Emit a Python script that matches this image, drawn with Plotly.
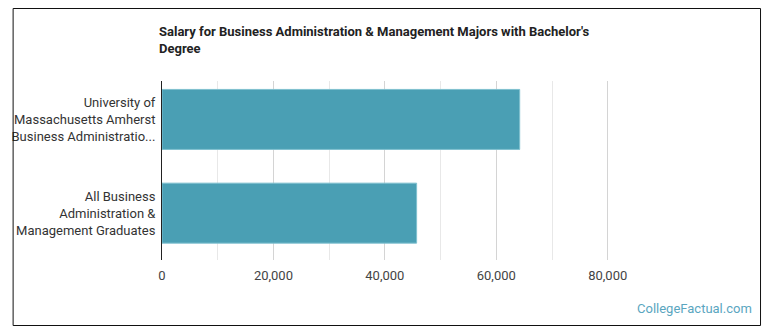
import plotly.graph_objects as go

categories = [
    "All Business<br>Administration &<br>Management Graduates",
    "University of<br>Massachusetts Amherst<br>Business Administratio...",
]
salaries = [45700, 64200]
tick_vals = [0, 20000, 40000, 60000, 80000]
tick_text = ["0", "20,000", "40,000", "60,000", "80,000"]

W, H = 770, 335
L, R, T, B = 158.5, 140, 81, 75
PW, PH = W - L - R, H - T - B

def px_x(x):
    return (x - L) / PW

def px_y(y):
    return (H - B - y) / PH

fig = go.Figure(go.Bar(
    x=salaries,
    y=categories,
    orientation="h",
    marker=dict(color="#4a9fb4", line=dict(color="#7fc0cf", width=1)),
    width=0.64,
    hoverinfo="skip",
))

fig.update_layout(
    width=W, height=H,
    margin=dict(l=L, r=R, t=T, b=B),
    paper_bgcolor="white",
    plot_bgcolor="white",
    showlegend=False,
    font=dict(family="Roboto", size=13, color="#333"),
    title=dict(
        text="<b>Salary for Business Administration & Management Majors with Bachelor's<br>Degree</b>",
        xref="container", yref="container",
        x=159 / W, xanchor="left",
        y=1 - 36 / H, yanchor="top",
        font=dict(family="Roboto", size=13, color="#222"),
    ),
    xaxis=dict(
        range=[0, 84000],
        tickvals=tick_vals,
        ticktext=tick_text,
        showgrid=True,
        gridcolor="#d4d4d4",
        gridwidth=1,
        minor=dict(dtick=10000, showgrid=True, gridcolor="#e8e8e8", gridwidth=1),
        zeroline=False,
        showline=False,
        ticks="",
        ticklabelstandoff=6,
        tickfont=dict(family="Roboto", size=13, color="#444"),
        fixedrange=True,
    ),
    yaxis=dict(
        type="category",
        categoryorder="array",
        categoryarray=categories,
        range=[-0.50, 1.41],
        showgrid=False,
        showline=True,
        linecolor="#222",
        linewidth=1,
        ticks="",
        ticklabelstandoff=3,
        tickfont=dict(family="Roboto", size=13, color="#333"),
        fixedrange=True,
    ),
    shapes=[dict(
        type="rect", xref="paper", yref="paper",
        x0=px_x(8.5), x1=px_x(761.5), y0=px_y(325.5), y1=px_y(8.5),
        line=dict(color="#111", width=1), fillcolor="rgba(0,0,0,0)", layer="above",
    )],
    annotations=[dict(
        text="CollegeFactual.com",
        xref="paper", yref="paper",
        x=px_x(755), y=px_y(318),
        xanchor="right", yanchor="bottom",
        showarrow=False,
        font=dict(family="Roboto", size=13, color="#5aa6bf"),
    )],
)

fig.write_html("out.html")
